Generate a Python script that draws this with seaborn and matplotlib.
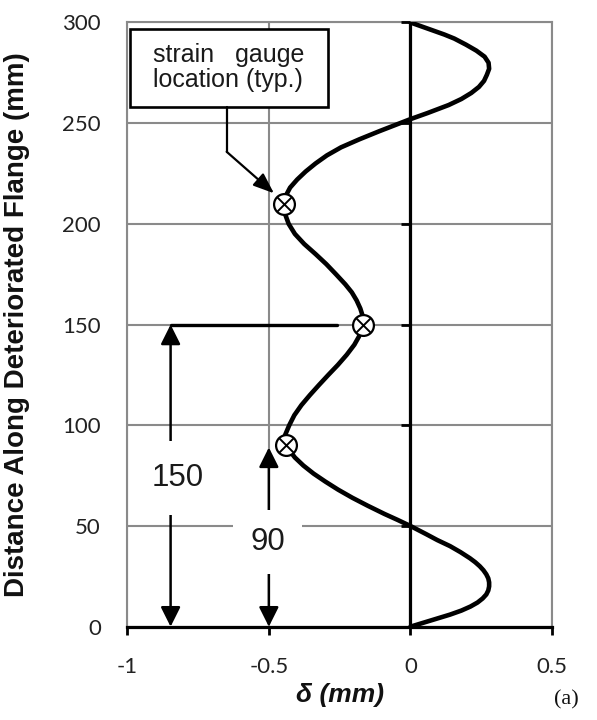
import numpy as np
import pandas as pd
import matplotlib
matplotlib.use("Agg")
import matplotlib.pyplot as plt
from matplotlib.markers import TICKLEFT
from matplotlib.patches import Rectangle
import seaborn as sns

# Out-of-plane deflection profile along the deteriorated flange
depth_mm = [0, 3, 6, 8, 10, 12, 14, 16, 18, 20, 22, 24, 26, 28, 30, 32, 34, 37, 40,
            43, 46, 50, 53, 56, 60, 64, 68, 72, 76, 80, 84, 88, 91, 95, 100, 105, 110,
            115, 120, 125, 130, 135, 140, 144, 148, 151, 154, 158, 162, 166, 170, 175,
            180, 185, 190, 195, 200, 205, 210, 214, 218, 222, 226, 230, 234, 238, 242,
            246, 249, 252, 255, 259, 262, 265, 268, 271, 274, 277, 280, 283, 286, 289,
            292, 294, 296, 298, 300]
delta_mm = [0.0, 0.07, 0.14, 0.18, 0.212, 0.237, 0.255, 0.268, 0.275, 0.278, 0.278,
            0.275, 0.268, 0.258, 0.245, 0.229, 0.21, 0.177, 0.14, 0.095, 0.055, 0.0,
            -0.045, -0.092, -0.15, -0.205, -0.255, -0.3, -0.342, -0.378, -0.408, -0.43,
            -0.44, -0.443, -0.428, -0.41, -0.385, -0.355, -0.323, -0.29, -0.256, -0.225,
            -0.198, -0.182, -0.171, -0.166, -0.168, -0.177, -0.19, -0.207, -0.23,
            -0.263, -0.297, -0.335, -0.375, -0.408, -0.43, -0.443, -0.447, -0.44,
            -0.425, -0.4, -0.37, -0.335, -0.295, -0.245, -0.18, -0.11, -0.055, 0.0,
            0.06, 0.135, 0.18, 0.215, 0.242, 0.26, 0.27, 0.278, 0.276, 0.262, 0.233,
            0.196, 0.155, 0.12, 0.08, 0.04, 0.0]

# Strain gauge positions on the profile
gauge_depth = [90, 150, 210]
gauge_delta = [-0.44, -0.166, -0.447]

x_ticks = [-1.0, -0.5, 0.0, 0.5]
x_tick_labels = ["-1", "-0.5", "0", "0.5"]
y_ticks = [0, 50, 100, 150, 200, 250, 300]
y_tick_labels = ["0", "50", "100", "150", "200", "250", "300"]

# Dimension callouts (mm from the flange end)
dim_outer = 150
dim_inner = 90

sns.set_theme(style="white")
plt.rcParams["font.family"] = ["Liberation Sans", "DejaVu Sans"]

fig = plt.figure(figsize=(5.97, 7.2), dpi=100)
ax = fig.add_axes([0.2132, 0.1296, 0.7114, 0.8392])

grid_gray = "#8a8a8a"

df = pd.DataFrame({"delta": delta_mm, "depth": depth_mm})
sns.lineplot(data=df, x="delta", y="depth", sort=False, estimator=None,
             color="black", lw=3.3, ax=ax, zorder=5)

gauges = pd.DataFrame({"delta": gauge_delta, "depth": gauge_depth})
sns.scatterplot(data=gauges, x="delta", y="depth", marker="o", s=225,
                facecolor="white", edgecolor="black", linewidth=1.6,
                ax=ax, zorder=6)
sns.scatterplot(data=gauges, x="delta", y="depth", marker="x", s=110,
                color="black", linewidth=1.4, ax=ax, zorder=7)

ax.set_xlim(x_ticks[0], x_ticks[-1])
ax.set_ylim(y_ticks[0], y_ticks[-1])

# Frame, grid and the zero-deflection axis
ax.grid(True, color=grid_gray, lw=1.5)
ax.set_axisbelow(True)
for side in ["left", "top", "right"]:
    ax.spines[side].set_color(grid_gray)
    ax.spines[side].set_linewidth(1.5)
ax.spines["bottom"].set_color("black")
ax.spines["bottom"].set_linewidth(2.3)
ax.spines["bottom"].set_zorder(4)
ax.axvline(0, color="black", lw=2.3, zorder=4)
ax.plot(np.zeros(len(y_ticks)), y_ticks, ls="none", marker=TICKLEFT, ms=6.5,
        mew=2, color="black", zorder=4, clip_on=False)

ax.set_xticks(x_ticks)
ax.set_xticklabels(x_tick_labels, fontfamily="Lato", fontsize=16, color="#222222")
ax.set_yticks(y_ticks)
ax.set_yticklabels(y_tick_labels, fontfamily="Lato", fontsize=16, color="#222222")
ax.tick_params(axis="x", bottom=True, direction="out", length=6, width=2,
               color="black", pad=16)
ax.tick_params(axis="y", left=False, length=0, pad=19)

ax.set_ylabel("Distance Along Deteriorated Flange (mm)", fontsize=20,
              fontweight="bold", color="#111111")
ax.yaxis.set_label_coords(-0.229, 0.5)
ax.set_xlabel("δ (mm)", fontsize=19, fontweight="bold", fontstyle="italic",
              color="#111111")
ax.xaxis.set_label_coords(0.5, -0.093)

# Dimension lines
ax.plot([-0.847, -0.261], [dim_outer, dim_outer], color="black", lw=2.4, zorder=4)
ax.annotate("", xy=(-0.847, dim_outer), xytext=(-0.847, 0),
            arrowprops=dict(arrowstyle="<|-|>,head_length=0.6,head_width=0.3",
                            mutation_scale=20, color="black", lw=1.8,
                            shrinkA=0, shrinkB=0), zorder=4)
ax.annotate("", xy=(-0.5, dim_inner - 1), xytext=(-0.5, 0),
            arrowprops=dict(arrowstyle="<|-|>,head_length=0.6,head_width=0.3",
                            mutation_scale=20, color="black", lw=1.8,
                            shrinkA=0, shrinkB=0), zorder=4)
ax.text(-0.823, 74, str(dim_outer), fontsize=22.5, ha="center", va="center",
        color="#1a1a1a", zorder=8, clip_on=False,
        bbox=dict(boxstyle="square,pad=0.7", fc="white", ec="none"))
ax.text(-0.505, 42, str(dim_inner), fontsize=22.5, ha="center", va="center",
        color="#1a1a1a", zorder=8, clip_on=False,
        bbox=dict(boxstyle="square,pad=0.55", fc="white", ec="none"))

# Strain gauge callout
ax.add_patch(Rectangle((-0.99, 258), 0.699, 39, fc="white", ec="black",
                       lw=1.9, zorder=8))
ax.text(-0.909, 277.5, "strain   gauge\nlocation (typ.)", fontsize=18,
        ha="left", va="center", linespacing=1.05, color="#1a1a1a", zorder=9)
ax.plot([-0.649, -0.649], [258, 235.8], color="black", lw=1.6, zorder=8)
ax.annotate("", xy=(-0.482, 215.2), xytext=(-0.649, 235.8),
            arrowprops=dict(arrowstyle="-|>,head_length=0.9,head_width=0.35",
                            mutation_scale=14, color="black", lw=1.6,
                            shrinkA=0, shrinkB=0), zorder=8)

fig.text(0.948, 0.028, "(a)", fontfamily="Liberation Serif", fontsize=16,
         ha="center", va="center", color="#111111")

fig.savefig("out.png", dpi=100, facecolor="white")
